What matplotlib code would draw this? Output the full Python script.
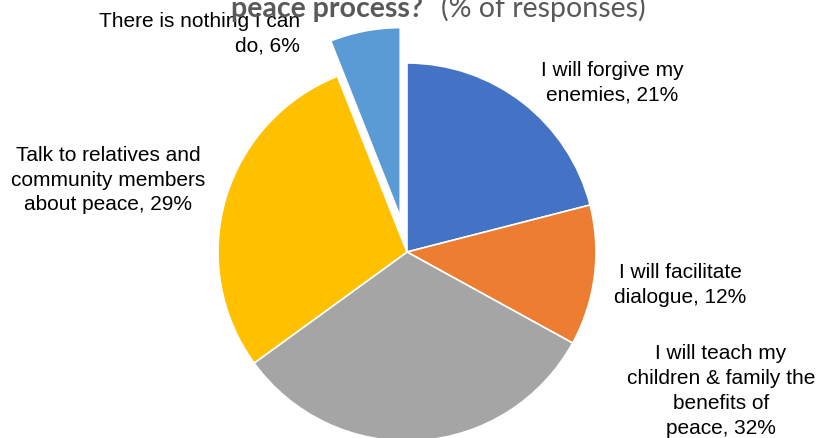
import matplotlib.pyplot as plt

# pie data
labels = ["I will forgive my\nenemies", "I will facilitate\ndialogue",
          "I will teach my\nchildren & family the\nbenefits of\npeace",
          "Talk to relatives and\ncommunity members\nabout peace",
          "There is nothing I can\ndo"]
values = [21, 12, 32, 29, 6]
colors = ["#4472C4", "#ED7D31", "#A5A5A5", "#FFC000", "#5B9BD5"]

W, H = 820, 438
R = 189
# only the last slice is pulled out (pixels)
explode = [0, 0, 0, 0, 36]

# label positions in pixels (x, y from top) and alignment
label_pos = [(612, 83, "center"), (680, 285, "center"), (721, 391, "center"),
             (108, 180, "center"), (300, 34, "right")]

fig = plt.figure(figsize=(8.2, 4.38), dpi=100)
ax = fig.add_axes([0, 0, 1, 1])

ax.pie(values, colors=colors, explode=explode, startangle=90, counterclock=False,
       center=(407, H - 252), radius=R,
       wedgeprops=dict(edgecolor="white", linewidth=1.2))
ax.set_xlim(0, W)
ax.set_ylim(0, H)
ax.set_aspect("equal")
ax.axis("off")

for lab, v, (x, y, ha) in zip(labels, values, label_pos):
    ax.text(x, H - y, f"{lab}, {v}%", ha=ha, va="center", fontsize=15,
            family="Liberation Sans", color="black", linespacing=1.38,
            multialignment=ha)

# title (top part cut off in the original)
ax.text(423, H - 17, "peace process?", ha="right", va="baseline", fontsize=20.5,
        fontweight="bold", family="Lato", color="#595959")
ax.text(441, H - 17, "(% of responses)", ha="left", va="baseline", fontsize=20.5,
        family="Lato", color="#595959")

fig.savefig("out.png", dpi=100)
